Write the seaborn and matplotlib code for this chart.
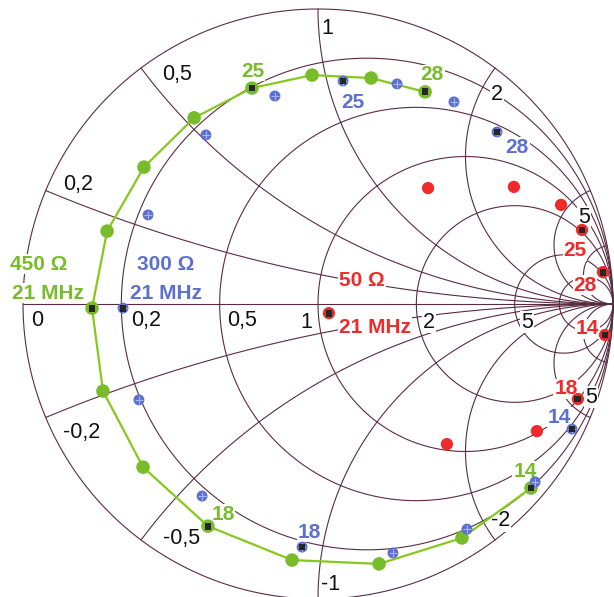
import numpy as np
import pandas as pd
import matplotlib
matplotlib.use("Agg")
import matplotlib.pyplot as plt
import seaborn as sns

# reflection coefficient (Gamma), 1 MHz steps
freqs = list(range(14, 29))
green_re = [0.722, 0.488, 0.207, -0.088, -0.373, -0.593, -0.729, -0.766,
            -0.715, -0.590, -0.420, -0.224, -0.020, 0.180, 0.363]
green_im = [-0.624, -0.793, -0.881, -0.868, -0.753, -0.553, -0.295, -0.014,
            0.247, 0.464, 0.631, 0.732, 0.776, 0.766, 0.719]
blue_re = [0.861, 0.736, 0.505, 0.254, -0.054, -0.393, -0.607, -0.661,
           -0.576, -0.380, -0.146, 0.085, 0.268, 0.461, 0.607]
blue_im = [-0.424, -0.603, -0.763, -0.844, -0.824, -0.651, -0.325, -0.014,
           0.302, 0.573, 0.705, 0.756, 0.746, 0.685, 0.583]
red_freqs = [14, 18, 19, 20, 21, 22, 23, 24, 25, 28]
red_re = [0.973, 0.881, 0.742, 0.437, 0.037, 0.373, 0.664, 0.824, 0.895, 0.966]
red_im = [-0.105, -0.322, -0.431, -0.475, -0.031, 0.393, 0.397, 0.336, 0.251, 0.108]
marked = [14, 18, 21, 25, 28]

r_values = [0.2, 0.5, 1, 2, 5, 10]
x_values = [0.2, 0.5, 1, 2, 5, 10]
r_labels = ["0", "0,2", "0,5", "1", "2", "5"]
x_labels = ["0,2", "0,5", "1", "2", "5", "-0,2", "-0,5", "-1", "-2", "5"]

green = "#78bc2c"
blue = "#5d70cf"
red = "#ee2a2a"
grid_col = "#5a2c42"

sns.set_style("white")
plt.rcParams['font.family'] = ['Liberation Sans', 'DejaVu Sans']

fig = plt.figure(figsize=(6.14, 5.97), dpi=100)
ax = fig.add_axes([0, 0, 1, 1])
ax.set_xlim(-318 / 295, 296 / 295)
ax.set_ylim(-293 / 295, 304 / 295)
ax.axis('off')

# smith chart grid
t = np.concatenate([-np.logspace(4, -4, 1500), [0], np.logspace(-4, 4, 1500)])
for r in [0] + r_values:
    g = (r + 1j * t - 1) / (r + 1j * t + 1)
    ax.plot(g.real, g.imag, color=grid_col, lw=0.8, zorder=1)
s = np.concatenate([[0], np.logspace(-4, 4, 1500)])
for x in x_values:
    for sgn in (1, -1):
        z = s + 1j * sgn * x
        g = (z - 1) / (z + 1)
        ax.plot(g.real, g.imag, color=grid_col, lw=0.8, zorder=1)
ax.plot([-1, 1], [0, 0], color=grid_col, lw=0.8, zorder=1)

wbox = dict(facecolor='white', edgecolor='none', pad=0.6)
r_pos = [(-0.953, -0.076), (-0.583, -0.076), (-0.258, -0.076),
         (-0.041, -0.080), (0.376, -0.080), (0.708, -0.080)]
x_pos = [(-0.814, 0.388), (-0.478, 0.761), (0.031, 0.914), (0.607, 0.690),
         (0.902, 0.276), (-0.800, -0.453), (-0.464, -0.815), (0.044, -0.968),
         (0.620, -0.754), (0.925, -0.334)]
for lab, (px, py) in zip(r_labels + x_labels, r_pos + x_pos):
    ax.text(px, py, lab, ha='center', va='baseline', fontsize=15.5,
            color='#111111', bbox=wbox, zorder=2)

df_green = pd.DataFrame({'freq': freqs, 're': green_re, 'im': green_im})
df_blue = pd.DataFrame({'freq': freqs, 're': blue_re, 'im': blue_im})
df_red = pd.DataFrame({'freq': red_freqs, 're': red_re, 'im': red_im})

sns.lineplot(data=df_green, x='re', y='im', sort=False, estimator=None,
             color="#86c81e", lw=1.6, ax=ax, zorder=3)
sns.scatterplot(data=df_green, x='re', y='im', color=green, s=95,
                edgecolor='none', ax=ax, zorder=4)
sns.scatterplot(data=df_blue, x='re', y='im', color=blue, s=62,
                edgecolor='none', ax=ax, zorder=4)
sns.scatterplot(data=df_blue, x='re', y='im', color="#a9b5ee", marker='+',
                s=40, linewidth=0.8, ax=ax, zorder=5)
sns.scatterplot(data=df_red, x='re', y='im', color=red, s=78,
                edgecolor='none', ax=ax, zorder=4)
for df in (df_green, df_blue, df_red):
    sns.scatterplot(data=df[df['freq'].isin(marked)], x='re', y='im',
                    color="#262626", marker='s', s=24, edgecolor='none',
                    ax=ax, zorder=6)
ax.set_xlabel('')
ax.set_ylabel('')


def tag(df, f, txt, dx, dy, col, ha='center'):
    row = df[df['freq'] == f].iloc[0]
    ax.annotate(txt, (row['re'], row['im']), xytext=(dx, dy),
                textcoords='offset pixels', ha=ha, va='baseline',
                fontsize=15, fontweight='bold', color=col, bbox=wbox, zorder=2)


tag(df_green, 14, "14", -6, 11.5, green)
tag(df_green, 18, "18", 15, 6.5, green)
tag(df_green, 25, "25", 1, 11.5, green)
tag(df_green, 28, "28", 7, 11.5, green)
tag(df_green, 21, "450 Ω", -82, 38.5, green, ha='left')
tag(df_green, 21, "21 MHz", -80, 9.5, green, ha='left')

tag(df_blue, 14, "14", -13, 6.5, blue)
tag(df_blue, 18, "18", 7, 9.5, blue)
tag(df_blue, 25, "25", 10, -27.5, blue)
tag(df_blue, 28, "28", 20, -20.5, blue)
tag(df_blue, 21, "300 Ω", 14, 38.5, blue, ha='left')
tag(df_blue, 21, "21 MHz", 7, 9.5, blue, ha='left')

tag(df_red, 21, "50 Ω", 33, 27.5, red)
tag(df_red, 21, "21 MHz", 46, -19.5, red)
tag(df_red, 25, "25", -7, -26.5, red)
tag(df_red, 28, "28", -18, -18.5, red)
tag(df_red, 14, "14", -18, 0.5, red)
tag(df_red, 18, "18", -12, 4.5, red)

fig.savefig("out.png", dpi=100, facecolor='white')
